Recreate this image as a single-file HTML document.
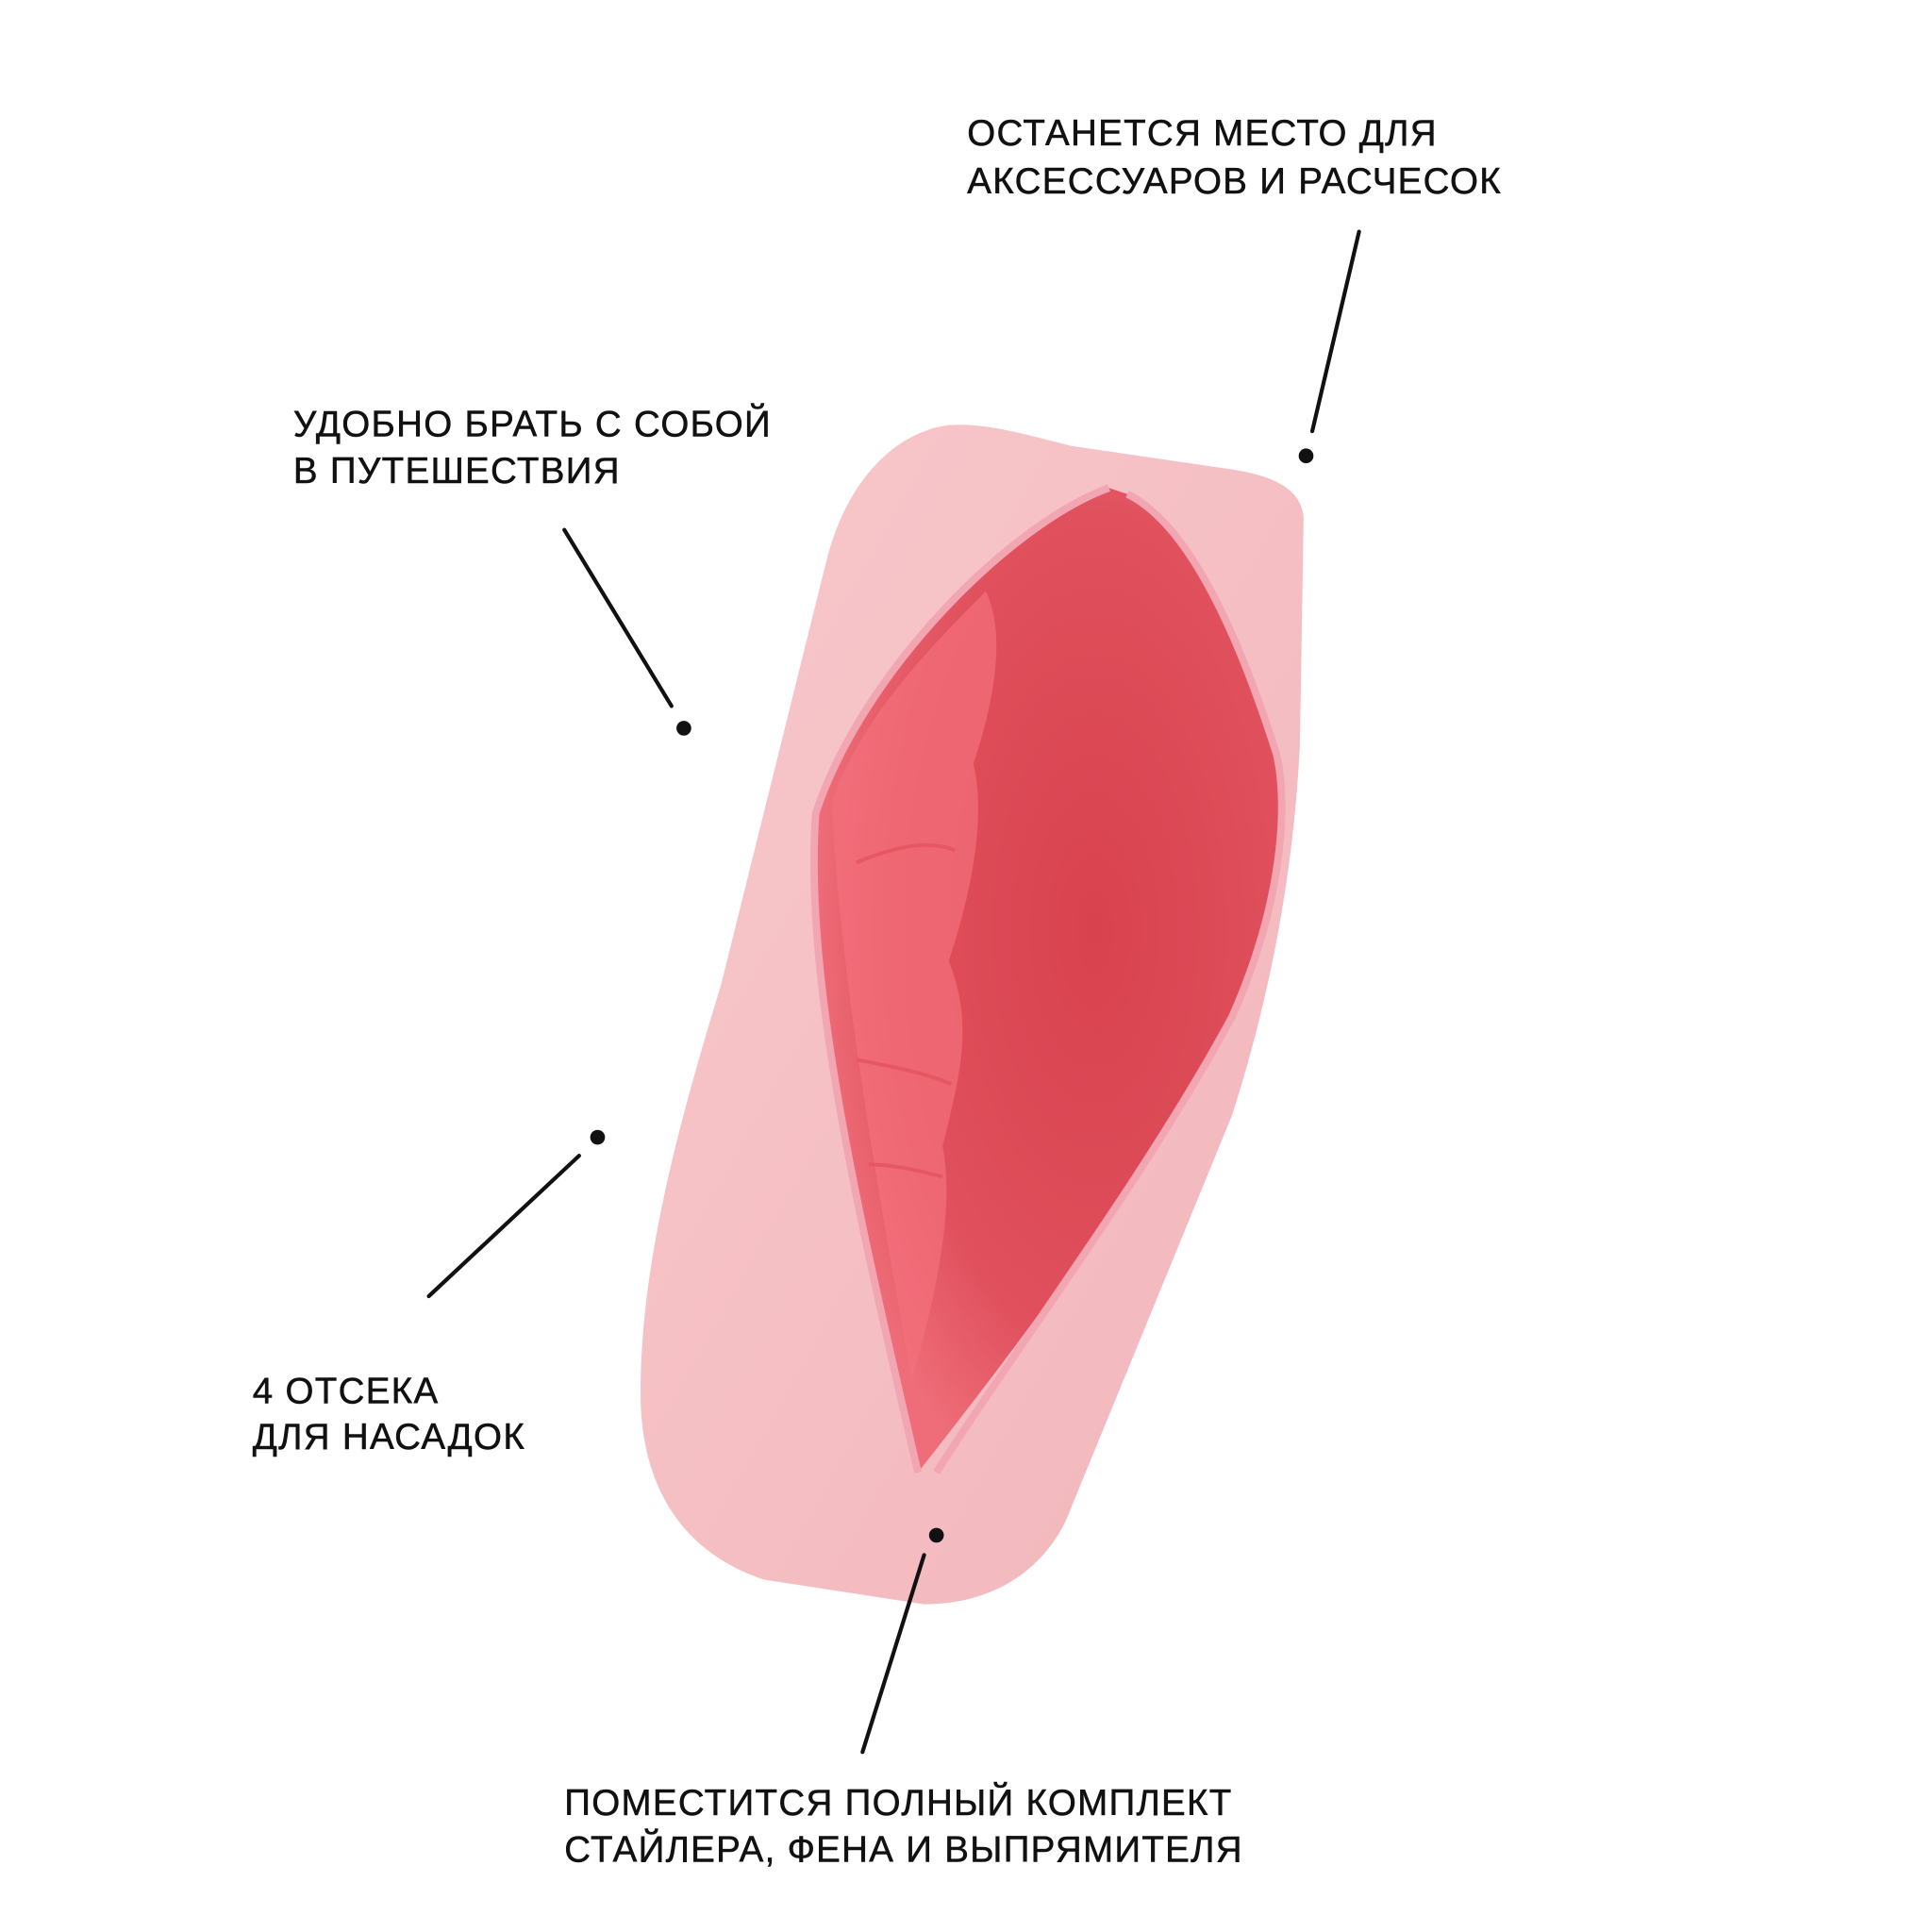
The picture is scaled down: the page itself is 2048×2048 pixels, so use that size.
<!DOCTYPE html>
<html><head><meta charset="utf-8"><style>
html,body{margin:0;padding:0;background:#fff;}
svg{display:block;}
text{font-family:"Liberation Sans","DejaVu Sans",sans-serif;font-size:29.5px;fill:#111;letter-spacing:1px;stroke:#111;stroke-width:0.4px;}
</style></head><body>
<svg width="2048" height="2048" viewBox="0 0 1568 1568" xmlns="http://www.w3.org/2000/svg">
<defs>
<linearGradient id="outer" x1="0" y1="0" x2="1" y2="1">
<stop offset="0" stop-color="#f8c9cc"/><stop offset="0.5" stop-color="#f5bfc3"/><stop offset="1" stop-color="#f1b6bb"/>
</linearGradient>
<radialGradient id="inner" cx="0.6" cy="0.45" r="0.6">
<stop offset="0" stop-color="#d8424e"/><stop offset="0.7" stop-color="#e0505d"/><stop offset="1" stop-color="#ee6d78"/>
</radialGradient>
</defs>
<rect width="1568" height="1568" fill="#fff"/>
<path d="M770,345 C730,350 690,385 672,450 L585,800 C545,930 518,1040 520,1140 C523,1215 560,1262 620,1282 L750,1302 C815,1302 855,1265 870,1222 L1000,905 C1032,805 1050,705 1055,605 L1058,420 C1056,396 1032,386 1000,381 L870,362 C830,352 800,343 770,345 Z" fill="url(#outer)"/>
<path d="M900,396 C820,425 700,545 662,660 C652,800 700,1000 745,1195 C820,1100 930,955 1000,825 C1040,735 1046,655 1036,612 C1002,505 962,424 915,401 Z" fill="url(#inner)"/>
<path d="M800,480 C760,520 700,580 675,650 C680,760 700,900 740,1120 C760,1050 775,980 765,930 C780,870 790,830 770,780 C790,720 800,660 790,620 C810,560 815,510 800,480 Z" fill="#f4707c" opacity="0.7"/>
<path d="M695,700 C720,690 750,680 775,690 M695,860 C720,865 750,870 772,880 M705,945 C725,945 745,950 765,955" stroke="#e4525f" stroke-width="3" fill="none" opacity="0.8"/>
<path d="M900,396 C820,425 700,545 662,660 C652,800 700,1000 745,1195" stroke="#f2a6b2" stroke-width="6" fill="none"/>
<path d="M915,401 C962,424 1002,505 1036,612 C1046,655 1040,735 1000,825 C930,955 820,1100 760,1195" stroke="#f2a6b2" stroke-width="6" fill="none"/>
<text x="785" y="118">ОСТАНЕТСЯ МЕСТО ДЛЯ</text>
<text x="785" y="157">АКСЕССУАРОВ И РАСЧЕСОК</text>
<text x="238" y="354">УДОБНО БРАТЬ С СОБОЙ</text>
<text x="238" y="392">В ПУТЕШЕСТВИЯ</text>
<text x="205" y="1139">4 ОТСЕКА</text>
<text x="205" y="1176">ДЛЯ НАСАДОК</text>
<text x="458" y="1473">ПОМЕСТИТСЯ ПОЛНЫЙ КОМПЛЕКТ</text>
<text x="458" y="1511">СТАЙЛЕРА, ФЕНА И ВЫПРЯМИТЕЛЯ</text>
<g stroke="#111" stroke-width="3.2" stroke-linecap="round">
<line x1="1103" y1="188" x2="1065" y2="350"/>
<line x1="458" y1="430" x2="545" y2="573"/>
<line x1="470" y1="938" x2="348" y2="1052"/>
<line x1="750" y1="1262" x2="700" y2="1422"/>
</g>
<g fill="#111">
<circle cx="1060" cy="370" r="6"/>
<circle cx="555" cy="591" r="6"/>
<circle cx="485" cy="923" r="6"/>
<circle cx="760" cy="1246" r="6"/>
</g>
</svg>
</body></html>
